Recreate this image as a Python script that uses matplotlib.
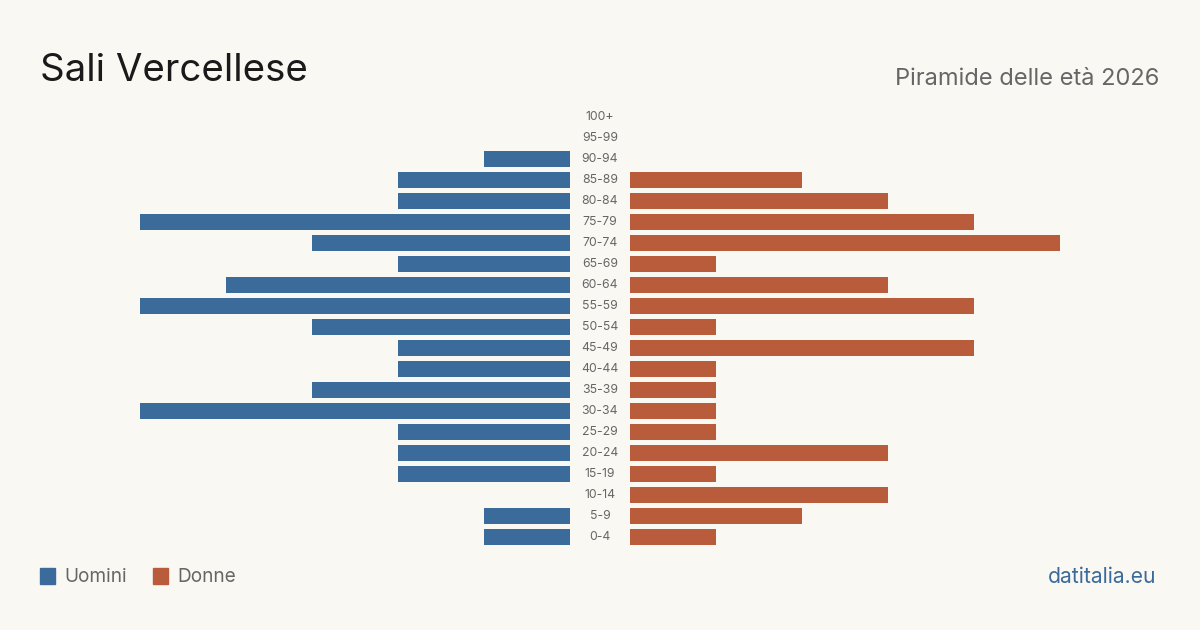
import matplotlib
matplotlib.use("Agg")
import matplotlib.pyplot as plt
from matplotlib.patches import Rectangle

plt.rcParams['font.family'] = ['Inter', 'DejaVu Sans']

age_groups = ["0-4", "5-9", "10-14", "15-19", "20-24", "25-29", "30-34", "35-39",
              "40-44", "45-49", "50-54", "55-59", "60-64", "65-69", "70-74", "75-79",
              "80-84", "85-89", "90-94", "95-99", "100+"]
men = [1, 1, 0, 2, 2, 2, 5, 3, 2, 2, 3, 5, 4, 2, 3, 5, 2, 2, 1, 0, 0]
women = [1, 2, 3, 1, 3, 1, 1, 1, 1, 4, 1, 4, 3, 1, 5, 4, 3, 2, 0, 0, 0]

title = "Sali Vercellese"
subtitle = "Piramide delle età 2026"
legend_labels = ["Uomini", "Donne"]
source = "datitalia.eu"

BG = "#faf8f3"
BLUE = "#3b6b9b"
ORANGE = "#b85c3c"
GREY = "#666666"

W, H = 1200, 630
fig = plt.figure(figsize=(W / 100, H / 100), dpi=100, facecolor=BG)

n = len(age_groups)
row_px = 21
top_px = 117 - row_px / 2
bottom_px = top_px + n * row_px
ax_b = (H - bottom_px) / H
ax_h = n * row_px / H

maxv = max(max(men), max(women))
axL = fig.add_axes([140 / W, ax_b, 430 / W, ax_h])
axR = fig.add_axes([630 / W, ax_b, 430 / W, ax_h])
ys = list(range(n))
axL.barh(ys, men, height=0.8, color=BLUE)
axR.barh(ys, women, height=0.8, color=ORANGE)
axL.set_xlim(maxv, 0)
axR.set_xlim(0, maxv)
for ax in (axL, axR):
    ax.set_ylim(-0.5, n - 0.5)
    ax.axis("off")
    ax.set_facecolor("none")

for i, lab in enumerate(age_groups):
    y = H - (bottom_px - (i + 0.5) * row_px)
    fig.text(600 / W, y / H, lab, ha="center", va="center", fontsize=8.8, color=GREY)

fig.text(40 / W, (H - 81) / H, title, ha="left", va="baseline", fontsize=27.7, color="#1a1a1a")
fig.text(1159 / W, (H - 85) / H, subtitle, ha="right", va="baseline", fontsize=17, color=GREY)

# legend
for x0, col, lab in [(40, BLUE, legend_labels[0]), (153, ORANGE, legend_labels[1])]:
    fig.patches.append(Rectangle((x0 / W, (H - 584) / H), 15 / W, 16 / H,
                                 transform=fig.transFigure, color=col))
    fig.text((x0 + 24) / W, (H - 577) / H, lab, ha="left", va="center", fontsize=13.7, color=GREY)

fig.text(1156 / W, (H - 577) / H, source, ha="right", va="center", fontsize=15.2, color=BLUE)

fig.savefig("out.png", dpi=100, facecolor=BG)
